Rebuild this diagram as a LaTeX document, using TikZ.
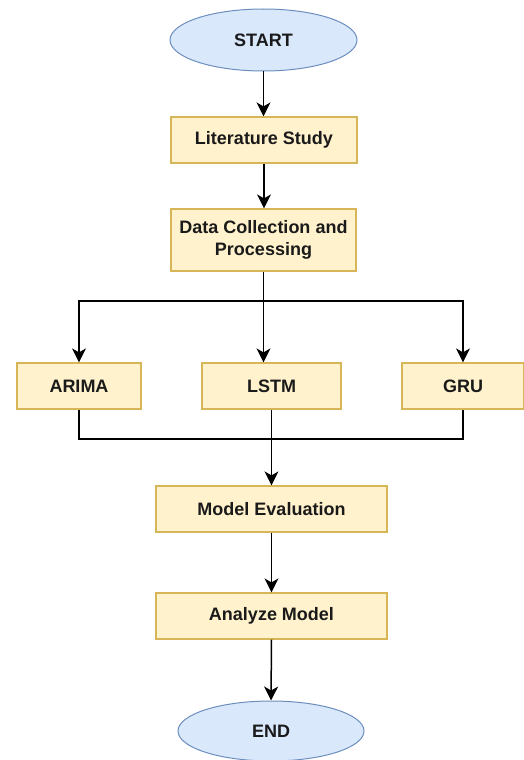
\documentclass[tikz,border=0pt]{standalone}
\usepackage{fontspec}
\setmainfont{Liberation Sans}
\usetikzlibrary{shapes.geometric,arrows.meta}
\definecolor{boxfill}{HTML}{FFF2CC}
\definecolor{boxline}{HTML}{D6B656}
\definecolor{ellfill}{HTML}{DAE8FC}
\definecolor{ellline}{HTML}{6C8EBF}
\definecolor{txt}{HTML}{1A1A1A}
\tikzset{
  procbox/.style={rectangle, draw=boxline, fill=boxfill, line width=1.2pt, inner sep=0pt,
    text=txt, font=\fontsize{18}{22}\selectfont\bfseries, align=center},
  termell/.style={ellipse, draw=ellline, fill=ellfill, line width=1pt, inner sep=0pt,
    text=txt, font=\fontsize{18}{22}\selectfont\bfseries},
  conn/.style={draw=black, line width=1.5pt},
  arr/.style={conn, -{Stealth[length=14pt,width=14pt,inset=4pt]}}
}
\begin{document}
\begin{tikzpicture}[x=1pt,y=-1pt]
\useasboundingbox (0,0) rectangle (523,760);
\node[termell, minimum width=187pt, minimum height=62pt] (start) at (263.5,40) {START};
\node[procbox, minimum width=186pt, minimum height=46pt] (lit) at (264,140) {Literature Study};
\node[procbox, minimum width=185pt, minimum height=62pt] (data) at (263.5,240) {Data Collection and\\Processing};
\node[procbox, minimum width=124pt, minimum height=46pt] (arima) at (79,386) {ARIMA};
\node[procbox, minimum width=139pt, minimum height=46pt] (lstm) at (271.5,386) {LSTM};
\node[procbox, minimum width=122pt, minimum height=46pt] (gru) at (463,386) {GRU};
\node[procbox, minimum width=231pt, minimum height=46pt] (eval) at (271.5,509) {Model Evaluation};
\node[procbox, minimum width=231pt, minimum height=46pt] (anal) at (271.5,616) {Analyze Model};
\node[termell, minimum width=186pt, minimum height=60pt] (end) at (271,731) {END};
\coordinate (branch) at (263.5,301);
\coordinate (merge) at (271.5,439);
\draw[arr] (start.south) -- (start.south |- lit.north);
\draw[arr] (lit.south) -- (lit.south |- data.north);
\draw[arr] (data.south) -- (data.south |- lstm.north);
\draw[arr] (branch) -| (arima.north);
\draw[arr] (branch) -| (gru.north);
\draw[conn] (arima.south) |- (merge) -| (gru.south);
\draw[arr] (lstm.south) -- (eval.north);
\draw[arr] (eval.south) -- (anal.north);
\draw[arr] (anal.south) -- (end.north);
\end{tikzpicture}
\end{document}
